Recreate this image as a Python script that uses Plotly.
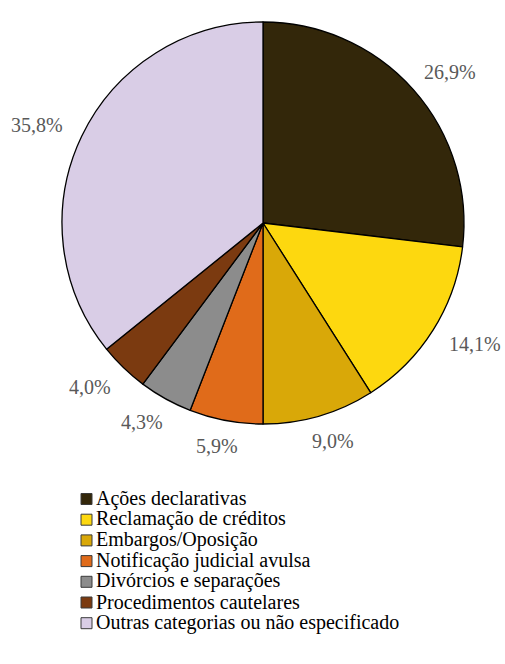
import math
import plotly.graph_objects as go

# Category names, shares (%) and slice colours
categories = [
    "Ações declarativas",
    "Reclamação de créditos",
    "Embargos/Oposição",
    "Notificação judicial avulsa",
    "Divórcios e separações",
    "Procedimentos cautelares",
    "Outras categorias ou não especificado",
]
shares = [26.9, 14.1, 9.0, 5.9, 4.3, 4.0, 35.8]
colors = ["#33270A", "#FDD80F", "#D9A808", "#E06B1A", "#8C8C8C", "#7B3A10", "#D9CDE6"]
value_labels = ["26,9%", "14,1%", "9,0%", "5,9%", "4,3%", "4,0%", "35,8%"]

W, H = 505, 664
CX, CY, R = 263, 223, 201  # pie centre / radius in pixels (from top-left)
SERIF = "Liberation Serif"


def px2paper(x, y):
    return x / W, 1 - y / H


dom_x = [(CX - R) / W, (CX + R) / W]
dom_y = [(H - CY - R) / H, (H - CY + R) / H]

fig = go.Figure(
    go.Pie(
        labels=categories,
        values=shares,
        sort=False,
        direction="clockwise",
        rotation=0,
        marker=dict(colors=colors, line=dict(color="#000000", width=1.3)),
        textinfo="none",
        hoverinfo="label+percent",
        domain=dict(x=dom_x, y=dom_y),
        showlegend=False,
    )
)

annotations = []
shapes = []

# Outside value labels, placed along each slice's mid-angle
total = sum(shares)
gap, half_w, half_h = 16, 33, 10
cum = 0.0
for v, txt in zip(shares, value_labels):
    mid = (cum + v / 2) / total * 2 * math.pi
    cum += v
    ux, uy = math.sin(mid), -math.cos(mid)  # screen coords, y down
    px = CX + ux * (R + gap) + half_w * ux
    py = CY + uy * (R + gap) + half_h * uy
    x, y = px2paper(px, py)
    annotations.append(
        dict(
            x=x, y=y, xref="paper", yref="paper", text=txt, showarrow=False,
            xanchor="center", yanchor="middle",
            font=dict(family=SERIF, size=20, color="#595959"),
        )
    )

# Legend: square swatches with category names, one row per category
LEG_X, LEG_Y0, ROW, SW = 81, 498, 20.7, 11
for i, (name, col) in enumerate(zip(categories, colors)):
    yc = LEG_Y0 + i * ROW
    x0, y0 = px2paper(LEG_X, yc - SW / 2 + 1)
    x1, y1 = px2paper(LEG_X + SW, yc + SW / 2 + 1)
    shapes.append(
        dict(type="rect", xref="paper", yref="paper", x0=x0, y0=y0, x1=x1, y1=y1,
             fillcolor=col, line=dict(color="#3A3A3A", width=1))
    )
    tx, ty = px2paper(LEG_X + SW + 2, yc)
    annotations.append(
        dict(
            x=tx, y=ty, xref="paper", yref="paper", text=name, showarrow=False,
            xanchor="left", yanchor="middle",
            font=dict(family=SERIF, size=20, color="#000000"),
        )
    )

fig.update_layout(
    width=W,
    height=H,
    margin=dict(l=0, r=0, t=0, b=0),
    paper_bgcolor="white",
    plot_bgcolor="white",
    annotations=annotations,
    shapes=shapes,
    showlegend=False,
)

fig.write_html("out.html")
